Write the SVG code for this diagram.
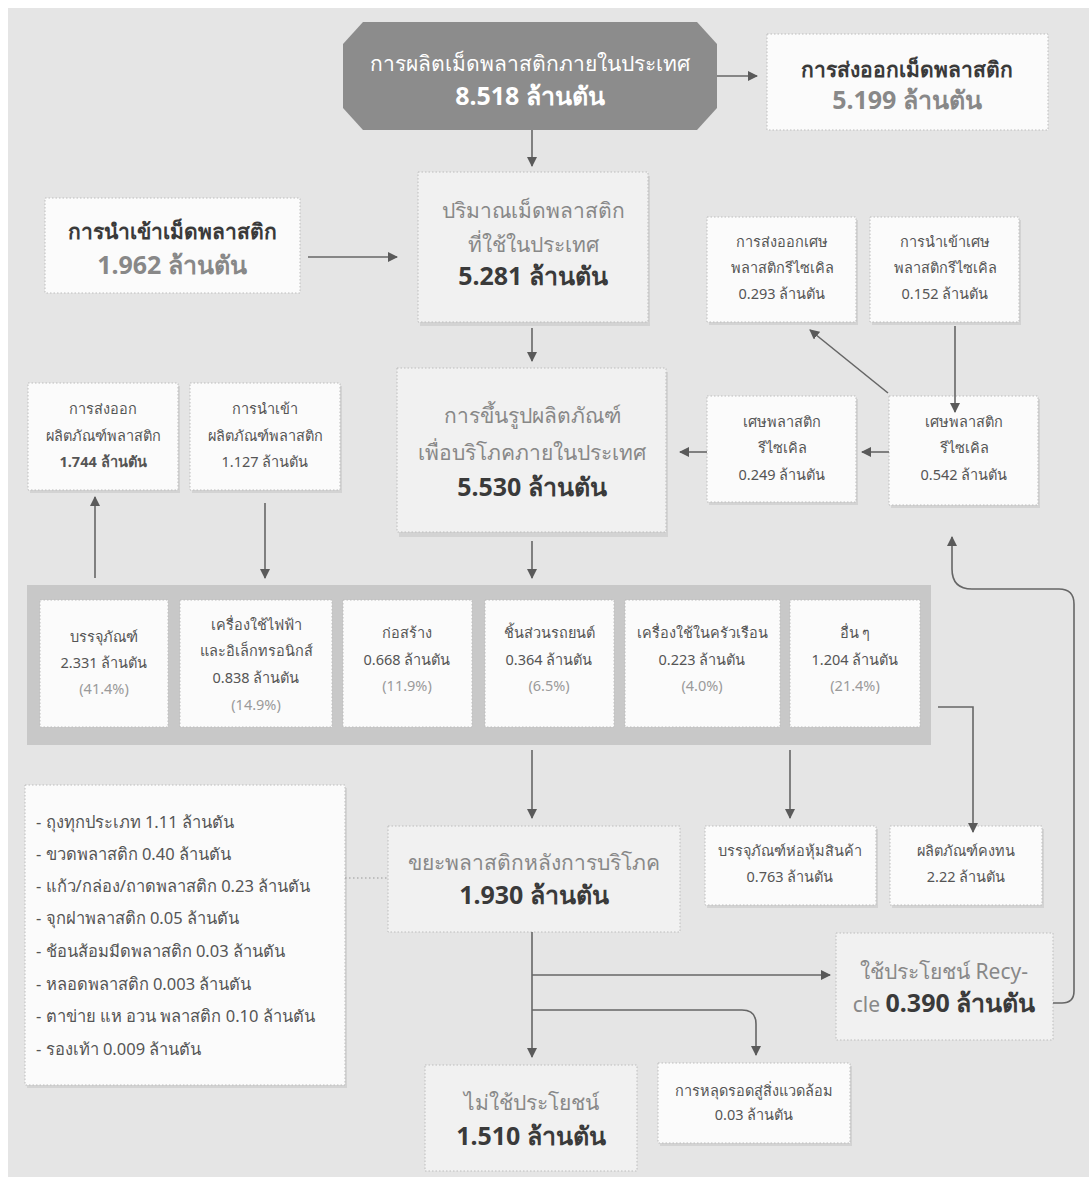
<svg xmlns="http://www.w3.org/2000/svg" width="1089" height="1177" viewBox="0 0 1089 1177">
<defs>
<marker id="ah" viewBox="0 0 10 10" refX="9" refY="5" markerWidth="10" markerHeight="10" markerUnits="userSpaceOnUse" orient="auto">
<path d="M0,0 L10,5 L0,10 z" fill="#5a5a5a"/>
</marker>
</defs>
<style>
text{font-family:"Noto Sans","DejaVu Sans",sans-serif;text-anchor:middle;}
.card{fill:#fbfbfb;stroke:#bdbdbd;stroke-width:1;stroke-dasharray:1.5 2;}
.cardg{fill:#f1f1f1;stroke:#bdbdbd;stroke-width:1;stroke-dasharray:1.5 2;}
.sh{fill:#d3d3d3;}
.conn path,.conn line{fill:none;stroke:#666;stroke-width:1.6;}
.dk{fill:#3a3a3a;}
.md{fill:#555;}
.lt{fill:#888;}
.pc{fill:#9a9a9a;}
.b{font-weight:bold;}
.s15{font-size:14.5px;}
.s16{font-size:16.5px;}
.s22{font-size:21px;}
.s26{font-size:25px;}
.li{text-anchor:start;}
</style>
<rect x="8" y="8" width="1081" height="1169" fill="#e5e5e5"/>

<g id="n-production">
<polygon points="363,22 697,22 717,44 717,108 697,130 363,130 343,108 343,44" fill="#8c8c8c"/>
<text x="530" y="71" class="s22" fill="#fff">การผลิตเม็ดพลาสติกภายในประเทศ</text>
<text x="530" y="105" class="s26 b" fill="#fff">8.518 ล้านตัน</text>
</g>

<g id="n-export-resin">
<rect x="767" y="34" width="281" height="96" class="card"/>
<text x="907" y="77" class="s22 b dk">การส่งออกเม็ดพลาสติก</text>
<text x="907" y="109" class="s26 b lt">5.199 ล้านตัน</text>
</g>

<g id="n-import-resin">
<rect x="45" y="198" width="255" height="95" class="card"/>
<text x="172" y="239" class="s22 b dk">การนำเข้าเม็ดพลาสติก</text>
<text x="172" y="274" class="s26 b lt">1.962 ล้านตัน</text>
</g>

<g id="n-domestic-resin">
<rect x="420" y="176" width="230" height="150" class="sh"/>
<rect x="418" y="172" width="230" height="150" class="cardg"/>
<text x="533" y="218" class="s22 lt">ปริมาณเม็ดพลาสติก</text>
<text x="533" y="252" class="s22 lt">ที่ใช้ในประเทศ</text>
<text x="533" y="285" class="s26 b dk">5.281 ล้านตัน</text>
</g>

<g id="n-export-scrap">
<rect x="709" y="220" width="149" height="105" class="sh"/>
<rect x="707" y="217" width="149" height="105" class="card"/>
<text x="782" y="247" class="s15 md">การส่งออกเศษ</text>
<text x="782" y="273" class="s15 md">พลาสติกรีไซเคิล</text>
<text x="782" y="299" class="s15 md">0.293 ล้านตัน</text>
</g>

<g id="n-import-scrap">
<rect x="872" y="220" width="149" height="105" class="sh"/>
<rect x="870" y="217" width="149" height="105" class="card"/>
<text x="945" y="247" class="s15 md">การนำเข้าเศษ</text>
<text x="945" y="273" class="s15 md">พลาสติกรีไซเคิล</text>
<text x="945" y="299" class="s15 md">0.152 ล้านตัน</text>
</g>

<g id="n-forming">
<rect x="399" y="372" width="269" height="165" class="sh"/>
<rect x="397" y="368" width="269" height="164" class="cardg"/>
<text x="532" y="423" class="s22 lt">การขึ้นรูปผลิตภัณฑ์</text>
<text x="532" y="460" class="s22 lt">เพื่อบริโภคภายในประเทศ</text>
<text x="532" y="496" class="s26 b dk">5.530 ล้านตัน</text>
</g>

<g id="n-scrap-249">
<rect x="709" y="399" width="149" height="106" class="sh"/>
<rect x="707" y="396" width="149" height="106" class="card"/>
<text x="782" y="427" class="s15 md">เศษพลาสติก</text>
<text x="782" y="453" class="s15 md">รีไซเคิล</text>
<text x="782" y="480" class="s15 md">0.249 ล้านตัน</text>
</g>

<g id="n-scrap-542">
<rect x="891" y="399" width="149" height="109" class="sh"/>
<rect x="889" y="396" width="149" height="109" class="card"/>
<text x="964" y="427" class="s15 md">เศษพลาสติก</text>
<text x="964" y="453" class="s15 md">รีไซเคิล</text>
<text x="964" y="480" class="s15 md">0.542 ล้านตัน</text>
</g>

<g id="n-export-product">
<rect x="30" y="386" width="150" height="107" class="sh"/>
<rect x="28" y="383" width="150" height="107" class="card"/>
<text x="103" y="414" class="s15 md">การส่งออก</text>
<text x="103" y="441" class="s15 md">ผลิตภัณฑ์พลาสติก</text>
<text x="103" y="467" class="s15 md b">1.744 ล้านตัน</text>
</g>

<g id="n-import-product">
<rect x="192" y="386" width="150" height="107" class="sh"/>
<rect x="190" y="383" width="150" height="107" class="card"/>
<text x="265" y="414" class="s15 md">การนำเข้า</text>
<text x="265" y="441" class="s15 md">ผลิตภัณฑ์พลาสติก</text>
<text x="265" y="467" class="s15 md">1.127 ล้านตัน</text>
</g>

<g id="n-sectors">
<rect x="27" y="585" width="904" height="160" fill="#c8c8c8"/>
</g>
<g id="n-packaging">
<rect x="40" y="600" width="128" height="127" class="card"/>
<text x="104" y="642" class="s15 md">บรรจุภัณฑ์</text>
<text x="104" y="668" class="s15 md">2.331 ล้านตัน</text>
<text x="104" y="694" class="s15 pc">(41.4%)</text>
</g>
<g id="n-electronics">
<rect x="180" y="600" width="152" height="127" class="card"/>
<text x="256" y="630" class="s15 md">เครื่องใช้ไฟฟ้า</text>
<text x="256" y="656" class="s15 md">และอิเล็กทรอนิกส์</text>
<text x="256" y="683" class="s15 md">0.838 ล้านตัน</text>
<text x="256" y="710" class="s15 pc">(14.9%)</text>
</g>
<g id="n-construction">
<rect x="343" y="600" width="129" height="127" class="card"/>
<text x="407" y="638" class="s15 md">ก่อสร้าง</text>
<text x="407" y="665" class="s15 md">0.668 ล้านตัน</text>
<text x="407" y="691" class="s15 pc">(11.9%)</text>
</g>
<g id="n-auto">
<rect x="485" y="600" width="129" height="127" class="card"/>
<text x="549" y="638" class="s15 md">ชิ้นส่วนรถยนต์</text>
<text x="549" y="665" class="s15 md">0.364 ล้านตัน</text>
<text x="549" y="691" class="s15 pc">(6.5%)</text>
</g>
<g id="n-household">
<rect x="625" y="600" width="155" height="127" class="card"/>
<text x="702" y="638" class="s15 md">เครื่องใช้ในครัวเรือน</text>
<text x="702" y="665" class="s15 md">0.223 ล้านตัน</text>
<text x="702" y="691" class="s15 pc">(4.0%)</text>
</g>
<g id="n-other">
<rect x="790" y="600" width="130" height="127" class="card"/>
<text x="855" y="638" class="s15 md">อื่น ๆ</text>
<text x="855" y="665" class="s15 md">1.204 ล้านตัน</text>
<text x="855" y="691" class="s15 pc">(21.4%)</text>
</g>

<g id="n-list">
<rect x="27" y="788" width="320" height="300" class="sh"/>
<rect x="25" y="785" width="320" height="300" class="card"/>
<text x="36" y="828" class="s16 md li">-  ถุงทุกประเภท 1.11 ล้านตัน</text>
<text x="36" y="860" class="s16 md li">-  ขวดพลาสติก 0.40 ล้านตัน</text>
<text x="36" y="892" class="s16 md li">-  แก้ว/กล่อง/ถาดพลาสติก 0.23 ล้านตัน</text>
<text x="36" y="924" class="s16 md li">-  จุกฝาพลาสติก 0.05 ล้านตัน</text>
<text x="36" y="957" class="s16 md li">-  ช้อนส้อมมีดพลาสติก 0.03 ล้านตัน</text>
<text x="36" y="990" class="s16 md li">-  หลอดพลาสติก 0.003 ล้านตัน</text>
<text x="36" y="1022" class="s16 md li">-  ตาข่าย  แห  อวน  พลาสติก 0.10 ล้านตัน</text>
<text x="36" y="1055" class="s16 md li">-  รองเท้า 0.009 ล้านตัน</text>
</g>

<g id="n-waste">
<rect x="388" y="826" width="292" height="106" class="cardg"/>
<text x="534" y="870" class="s22 lt">ขยะพลาสติกหลังการบริโภค</text>
<text x="534" y="904" class="s26 b dk">1.930 ล้านตัน</text>
</g>

<g id="n-wrap">
<rect x="707" y="829" width="171" height="79" class="sh"/>
<rect x="705" y="826" width="171" height="79" class="card"/>
<text x="790" y="856" class="s15 md">บรรจุภัณฑ์ห่อหุ้มสินค้า</text>
<text x="790" y="882" class="s15 md">0.763 ล้านตัน</text>
</g>

<g id="n-durable">
<rect x="892" y="829" width="152" height="79" class="sh"/>
<rect x="890" y="826" width="152" height="79" class="card"/>
<text x="966" y="856" class="s15 md">ผลิตภัณฑ์คงทน</text>
<text x="966" y="882" class="s15 md">2.22 ล้านตัน</text>
</g>

<g id="n-recycle">
<rect x="836" y="933" width="217" height="107" class="cardg"/>
<text x="944" y="979" class="s22 lt">ใช้ประโยชน์  Recy-</text>
<text x="944" y="1012" class="s22 lt">cle <tspan class="b dk" style="font-size:25px">0.390 ล้านตัน</tspan></text>
</g>

<g id="n-unused">
<rect x="425" y="1065" width="212" height="106" class="cardg"/>
<text x="531" y="1110" class="s22 lt">ไม่ใช้ประโยชน์</text>
<text x="531" y="1145" class="s26 b dk">1.510 ล้านตัน</text>
</g>

<g id="n-leak">
<rect x="660" y="1066" width="192" height="80" class="sh"/>
<rect x="658" y="1063" width="192" height="80" class="card"/>
<text x="754" y="1096" class="s15 md">การหลุดรอดสู่สิ่งแวดล้อม</text>
<text x="754" y="1120" class="s15 md">0.03 ล้านตัน</text>
</g>

<g id="connectors" class="conn">
<line x1="717" y1="76" x2="757" y2="76" marker-end="url(#ah)"/>
<line x1="532" y1="130" x2="532" y2="166" marker-end="url(#ah)"/>
<line x1="308" y1="257" x2="397" y2="257" marker-end="url(#ah)"/>
<line x1="532" y1="328" x2="532" y2="361" marker-end="url(#ah)"/>
<line x1="888" y1="393" x2="810" y2="330" marker-end="url(#ah)"/>
<line x1="955" y1="326" x2="955" y2="412" marker-end="url(#ah)"/>
<line x1="889" y1="452" x2="862" y2="452" marker-end="url(#ah)"/>
<line x1="707" y1="452" x2="680" y2="452" marker-end="url(#ah)"/>
<line x1="95" y1="578" x2="95" y2="497" marker-end="url(#ah)"/>
<line x1="265" y1="503" x2="265" y2="578" marker-end="url(#ah)"/>
<line x1="532" y1="541" x2="532" y2="578" marker-end="url(#ah)"/>
<line x1="532" y1="750" x2="532" y2="818" marker-end="url(#ah)"/>
<line x1="790" y1="750" x2="790" y2="818" marker-end="url(#ah)"/>
<path d="M938,707 H973 V832" marker-end="url(#ah)"/>
<line x1="532" y1="932" x2="532" y2="1057" marker-end="url(#ah)"/>
<line x1="532" y1="975" x2="830" y2="975" marker-end="url(#ah)"/>
<path d="M532,1010 H742 Q756,1010 756,1024 V1055" marker-end="url(#ah)"/>
<path d="M1053,1003 H1062 Q1074,1003 1074,991 V604 Q1074,589 1059,589 H972 Q952,589 952,569 V537" marker-end="url(#ah)"/>
<line x1="345" y1="878" x2="388" y2="878" stroke-dasharray="1.5 2.5" style="stroke:#999;stroke-width:1.2"/>
</g>
</svg>
